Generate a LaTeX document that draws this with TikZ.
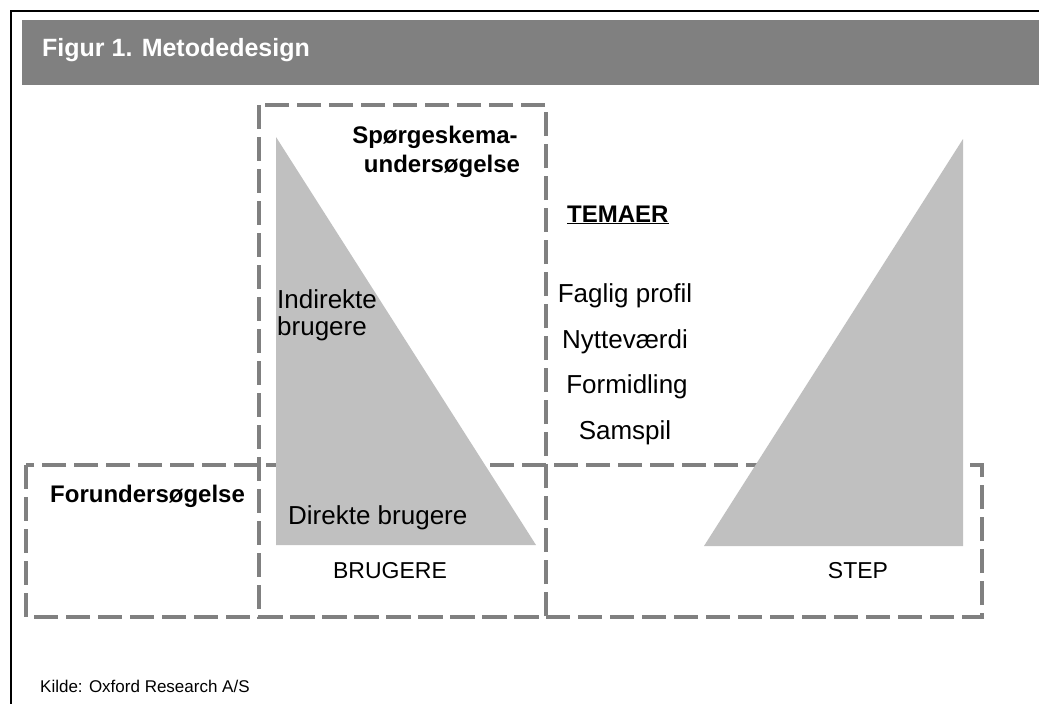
\documentclass[tikz,border=0pt]{standalone}
\usepackage{fontspec}
\setmainfont{Liberation Sans}
\definecolor{hdr}{HTML}{808080}
\definecolor{trigray}{HTML}{C0C0C0}
\definecolor{dashgray}{HTML}{808080}
\begin{document}
\begin{tikzpicture}[x=1pt,y=-1pt,
  dashbox/.style={draw=dashgray,line width=4pt,dash pattern=on 24pt off 8pt},
  trifill/.style={fill=trigray,draw=none},
  reglbl/.style={inner sep=0pt,font=\fontsize{26}{30}\selectfont},
  boldlbl/.style={inner sep=0pt,font=\fontsize{24}{28}\selectfont\bfseries},
  caplbl/.style={inner sep=0pt,font=\fontsize{23}{27}\selectfont},
  srclbl/.style={inner sep=0pt,font=\fontsize{17}{20}\selectfont},
  titlelbl/.style={inner sep=0pt,text=white,font=\fontsize{25}{30}\selectfont\bfseries}]
\useasboundingbox (0,0) rectangle (1039,704);
\fill[white] (0,0) rectangle (1039,704);
% header band and frame
\fill[hdr] (22,20) rectangle (1039,85);
\draw[line width=1.2pt] (11,704) -- (11,11) -- (1039,11);
\node[titlelbl,anchor=base west] (title) at (42,56) {Figur 1. Metodedesign};
% dashed boxes
\draw[dashbox] (26,465) rectangle (982,617);
\draw[dashbox] (259,105) rectangle (546,617);
% triangles
\fill[trifill] (276,137) -- (276,545) -- (536,545) -- cycle;
\fill[trifill] (963,139) -- (963,546) -- (704,546) -- cycle;
% labels
\node[boldlbl,anchor=base] (sp1) at (435,143) {Spørgeskema-};
\node[boldlbl,anchor=base] (sp2) at (442,172) {undersøgelse};
\node[boldlbl,anchor=base west] (tem) at (567,222) {\underline{TEMAER}};
\node[reglbl,anchor=base] (t1) at (625,302) {Faglig profil};
\node[reglbl,anchor=base] (t2) at (625,348) {Nytteværdi};
\node[reglbl,anchor=base] (t3) at (627,393) {Formidling};
\node[reglbl,anchor=base] (t4) at (625,439) {Samspil};
\node[reglbl,anchor=base west] (ind1) at (277,308) {Indirekte};
\node[reglbl,anchor=base west] (ind2) at (277,335) {brugere};
\node[reglbl,anchor=base west] (dir) at (288,524) {Direkte brugere};
\node[caplbl,anchor=base] (brug) at (390,578) {BRUGERE};
\node[caplbl,anchor=base] (step) at (858,578) {STEP};
\node[boldlbl,anchor=base west] (forund) at (50,502) {Forundersøgelse};
\node[srclbl,anchor=base west] (kilde) at (40,692) {Kilde: Oxford Research A/S};
\end{tikzpicture}
\end{document}
